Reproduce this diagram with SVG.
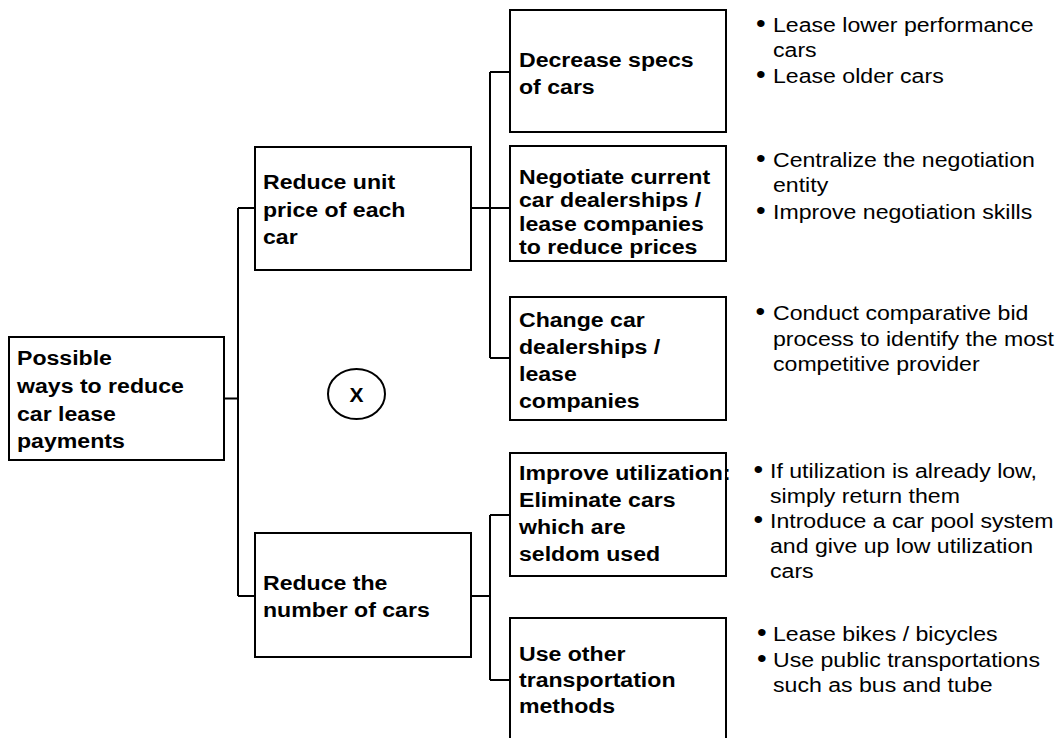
<svg xmlns="http://www.w3.org/2000/svg" width="1058" height="738" viewBox="0 0 1058 738">
<style>
.box{fill:#fff;stroke:#000;stroke-width:2}
.b{font-family:"Liberation Sans",Arial,sans-serif;font-weight:bold;font-size:21px;fill:#000}
.r{font-family:"Liberation Sans",Arial,sans-serif;font-size:21px;fill:#000}
.d{font-size:25px}
.c{fill:none;stroke:#000;stroke-width:2}
</style>
<rect width="1058" height="738" fill="#fff"/>
<g id="connectors">
<path class="c" d="M224,398.5H238M238,208V596M238,208H255M238,596H255"/>
<path class="c" d="M471,208H490M490,72V358M490,72H510M490,208H510M490,358H510"/>
<path class="c" d="M471,596H490M490,515V680M490,515H510M490,680H510"/>
</g>
<g id="root">
<rect class="box" x="9" y="337" width="215" height="123"/>
<text class="b" transform="translate(17 0) scale(1.1 1)"><tspan x="0" y="365">Possible</tspan><tspan x="0" y="393">ways to reduce</tspan><tspan x="0" y="421">car lease</tspan><tspan x="0" y="448">payments</tspan></text>
</g>
<g id="unit-price">
<rect class="box" x="255" y="147" width="216" height="123"/>
<text class="b" transform="translate(263 0) scale(1.1 1)"><tspan x="0" y="189">Reduce unit</tspan><tspan x="0" y="217">price of each</tspan><tspan x="0" y="244">car</tspan></text>
</g>
<g id="number-of-cars">
<rect class="box" x="255" y="533" width="216" height="124"/>
<text class="b" transform="translate(263 0) scale(1.1 1)"><tspan x="0" y="590">Reduce the</tspan><tspan x="0" y="617">number of cars</tspan></text>
</g>
<g id="x-mark">
<ellipse cx="356.5" cy="394" rx="28.5" ry="25" fill="none" stroke="#000" stroke-width="2"/>
<text class="b" x="356.5" y="402" text-anchor="middle" font-size="21">X</text>
</g>
<g id="decrease-specs">
<rect class="box" x="510" y="10" width="216" height="122"/>
<text class="b" transform="translate(519 0) scale(1.1 1)"><tspan x="0" y="67">Decrease specs</tspan><tspan x="0" y="94">of cars</tspan></text>
</g>
<g id="negotiate">
<rect class="box" x="510" y="146" width="216" height="115"/>
<text class="b" transform="translate(519 0) scale(1.1 1)"><tspan x="0" y="184">Negotiate current</tspan><tspan x="0" y="207.5">car dealerships /</tspan><tspan x="0" y="231">lease companies</tspan><tspan x="0" y="254.5">to reduce prices</tspan></text>
</g>
<g id="change-dealers">
<rect class="box" x="510" y="297" width="216" height="123"/>
<text class="b" transform="translate(519 0) scale(1.1 1)"><tspan x="0" y="327">Change car</tspan><tspan x="0" y="354">dealerships /</tspan><tspan x="0" y="381">lease</tspan><tspan x="0" y="408">companies</tspan></text>
</g>
<g id="improve-utilization">
<rect class="box" x="510" y="453" width="216" height="123"/>
<text class="b" transform="translate(519 0) scale(1.1 1)"><tspan x="0" y="480">Improve utilization:</tspan><tspan x="0" y="507">Eliminate cars</tspan><tspan x="0" y="534">which are</tspan><tspan x="0" y="561">seldom used</tspan></text>
</g>
<g id="other-transport">
<rect class="box" x="510" y="618" width="216" height="130"/>
<text class="b" transform="translate(519 0) scale(1.1 1)"><tspan x="0" y="661">Use other</tspan><tspan x="0" y="687">transportation</tspan><tspan x="0" y="713">methods</tspan></text>
</g>
<g id="notes-specs">
<text class="r" transform="translate(773 0) scale(1.1 1)"><tspan class="d" x="-15.5" y="32">•</tspan><tspan x="0" y="32">Lease lower performance</tspan><tspan x="0" y="57">cars</tspan><tspan class="d" x="-15.5" y="83">•</tspan><tspan x="0" y="83">Lease older cars</tspan></text>
</g>
<g id="notes-negotiate">
<text class="r" transform="translate(773 0) scale(1.1 1)"><tspan class="d" x="-15.5" y="167">•</tspan><tspan x="0" y="167">Centralize the negotiation</tspan><tspan x="0" y="192">entity</tspan><tspan class="d" x="-15.5" y="219">•</tspan><tspan x="0" y="219">Improve negotiation skills</tspan></text>
</g>
<g id="notes-change">
<text class="r" transform="translate(773 0) scale(1.1 1)"><tspan class="d" x="-16" y="320">•</tspan><tspan x="0" y="320">Conduct comparative bid</tspan><tspan x="0" y="346">process to identify the most</tspan><tspan x="0" y="371">competitive provider</tspan></text>
</g>
<g id="notes-utilization">
<text class="r" transform="translate(770 0) scale(1.1 1)"><tspan class="d" x="-15" y="478">•</tspan><tspan x="0" y="478">If utilization is already low,</tspan><tspan x="0" y="503">simply return them</tspan><tspan class="d" x="-15" y="528">•</tspan><tspan x="0" y="528">Introduce a car pool system</tspan><tspan x="0" y="553">and give up low utilization</tspan><tspan x="0" y="578">cars</tspan></text>
</g>
<g id="notes-transport">
<text class="r" transform="translate(773 0) scale(1.1 1)"><tspan class="d" x="-14.5" y="641">•</tspan><tspan x="0" y="641">Lease bikes / bicycles</tspan><tspan class="d" x="-14.5" y="667">•</tspan><tspan x="0" y="667">Use public transportations</tspan><tspan x="0" y="692">such as bus and tube</tspan></text>
</g>
</svg>
